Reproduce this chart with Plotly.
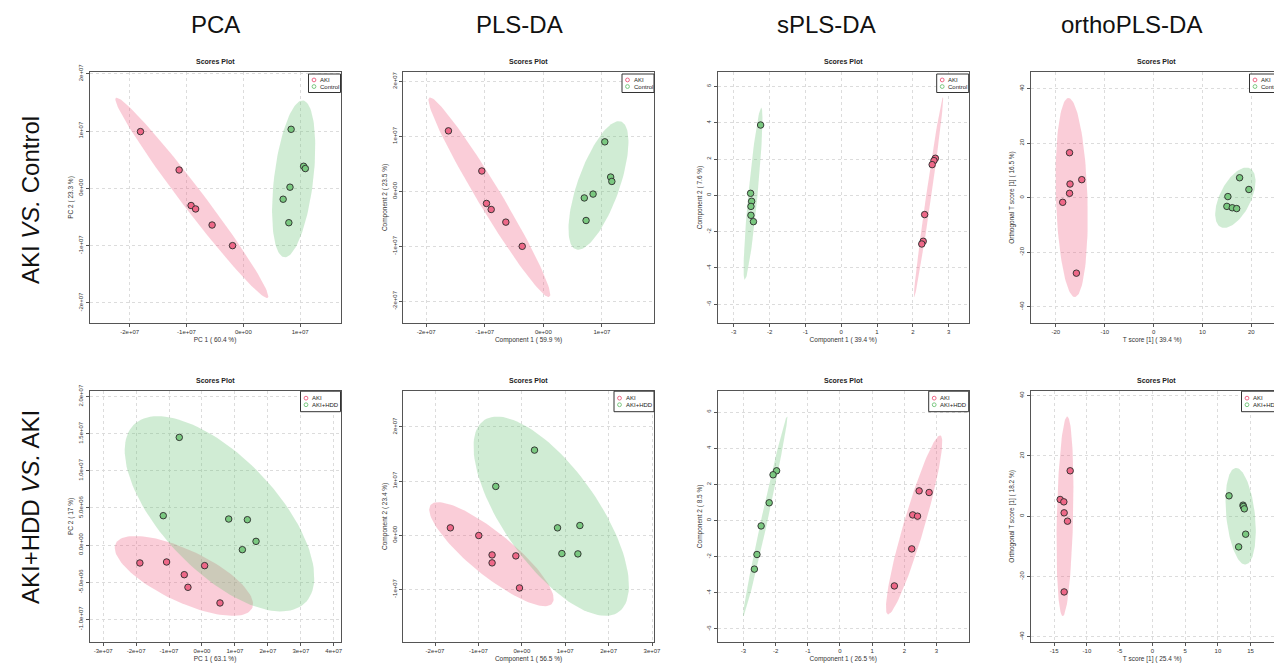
import numpy as np
import plotly.graph_objects as go

W, H = 1274, 671
FONT = "Liberation Sans"

# ---------------- labels ----------------
col_titles = ["PCA", "PLS-DA", "sPLS-DA", "orthoPLS-DA"]
row_titles = ["AKI <i>VS.</i> Control", "AKI+HDD <i>VS.</i> AKI"]
row_groups = [["AKI", "Control"], ["AKI", "AKI+HDD"]]

x_titles = ["PC 1 ( 60.4 %)", "Component 1 ( 59.9 %)", "Component 1 ( 39.4 %)", "T score [1] ( 39.4 %)",
            "PC 1 ( 63.1 %)", "Component 1 ( 56.5 %)", "Component 1 ( 26.5 %)", "T score [1] ( 25.4 %)"]
y_titles = ["PC 2 ( 23.3 %)", "Component 2 ( 23.5 %)", "Component 2 ( 7.6 %)", "Orthogonal T score [1] ( 16.5 %)",
            "PC 2 ( 17 %)", "Component 2 ( 23.4 %)", "Component 2 ( 8.5 %)", "Orthogonal T score [1] ( 18.2 %)"]

# ---------------- data: row 1 (AKI vs Control) ----------------
pca_r1_aki_x = [-1.81e7, -1.13e7, -0.92e7, -0.84e7, -0.55e7, -0.19e7]
pca_r1_aki_y = [0.99e7, 0.32e7, -0.30e7, -0.36e7, -0.64e7, -1.00e7]
pca_r1_ctl_x = [0.84e7, 1.06e7, 1.09e7, 0.82e7, 0.70e7, 0.80e7]
pca_r1_ctl_y = [1.03e7, 0.385e7, 0.345e7, 0.02e7, -0.19e7, -0.60e7]

plsda_r1_aki_x = [-1.62e7, -1.05e7, -0.97e7, -0.89e7, -0.64e7, -0.36e7]
plsda_r1_aki_y = [1.10e7, 0.37e7, -0.22e7, -0.33e7, -0.56e7, -1.00e7]
plsda_r1_ctl_x = [1.05e7, 1.15e7, 1.17e7, 0.85e7, 0.70e7, 0.73e7]
plsda_r1_ctl_y = [0.90e7, 0.26e7, 0.18e7, -0.05e7, -0.12e7, -0.53e7]

splsda_r1_aki_x = [2.63, 2.59, 2.54, 2.33, 2.29, 2.25]
splsda_r1_aki_y = [2.04, 1.91, 1.69, -1.06, -2.53, -2.68]
splsda_r1_ctl_x = [-2.25, -2.53, -2.50, -2.52, -2.52, -2.45]
splsda_r1_ctl_y = [3.87, 0.11, -0.33, -0.61, -1.10, -1.45]

opls_r1_aki_x = [-17.2, -17.1, -17.2, -18.6, -14.7, -15.8]
opls_r1_aki_y = [16.5, 5.0, 1.6, -1.7, 6.6, -27.7]
opls_r1_ctl_x = [17.6, 19.5, 15.2, 15.0, 16.1, 17.0]
opls_r1_ctl_y = [7.3, 3.0, 0.4, -3.2, -3.7, -4.0]

# ---------------- data: row 2 (AKI+HDD vs AKI) ----------------
pca_r2_aki_x = [-1.885e7, -1.074e7, -0.537e7, -0.426e7, 0.081e7, 0.547e7]
pca_r2_aki_y = [-2.42e6, -2.29e6, -4.00e6, -5.70e6, -2.78e6, -7.81e6]
pca_r2_hdd_x = [-0.689e7, -1.175e7, 0.811e7, 1.378e7, 1.641e7, 1.226e7]
pca_r2_hdd_y = [14.5e6, 3.95e6, 3.50e6, 3.41e6, 0.49e6, -0.63e6]

plsda_r2_aki_x = [-1.646e7, -0.992e7, -0.685e7, -0.685e7, -0.138e7, -0.054e7]
plsda_r2_aki_y = [0.136e7, -0.006e7, -0.364e7, -0.511e7, -0.382e7, -0.974e7]
plsda_r2_hdd_x = [0.292e7, -0.600e7, 0.823e7, 1.338e7, 0.923e7, 1.292e7]
plsda_r2_hdd_y = [1.571e7, 0.900e7, 0.136e7, 0.179e7, -0.339e7, -0.345e7]

splsda_r2_aki_x = [2.46, 2.77, 2.26, 2.41, 2.23, 1.69]
splsda_r2_aki_y = [1.64, 1.55, 0.31, 0.24, -1.57, -3.62]
splsda_r2_hdd_x = [-1.97, -2.08, -2.20, -2.45, -2.58, -2.66]
splsda_r2_hdd_y = [2.75, 2.53, 0.98, -0.30, -1.88, -2.69]

opls_r2_aki_x = [-12.56, -14.09, -13.53, -13.48, -12.97, -13.48]
opls_r2_aki_y = [15.07, 5.54, 4.76, 1.11, -1.66, -25.15]
opls_r2_hdd_x = [11.70, 13.84, 13.89, 14.04, 14.24, 13.17]
opls_r2_hdd_y = [6.76, 3.66, 3.21, 2.44, -5.98, -10.19]

# ---------------- ticks ----------------
e7_ticks_2 = [-2e7, -1e7, 0, 1e7, 2e7]
e7_labels_2 = ["-2e+07", "-1e+07", "0e+00", "1e+07", "2e+07"]
pca_r2_xticks = [-3e7, -2e7, -1e7, 0, 1e7, 2e7, 3e7, 4e7]
pca_r2_xlabels = ["-3e+07", "-2e+07", "-1e+07", "0e+00", "1e+07", "2e+07", "3e+07", "4e+07"]
pca_r2_yticks = [-1e7, -5e6, 0, 5e6, 1e7, 1.5e7, 2e7]
pca_r2_ylabels = ["-1.0e+07", "-5.0e+06", "0.0e+00", "5.0e+06", "1.0e+07", "1.5e+07", "2.0e+07"]
plsda_r2_xticks = [-2e7, -1e7, 0, 1e7, 2e7, 3e7]
plsda_r2_xlabels = ["-2e+07", "-1e+07", "0e+00", "1e+07", "2e+07", "3e+07"]
plsda_r2_yticks = [-1e7, 0, 1e7, 2e7]
plsda_r2_ylabels = ["-1e+07", "0e+00", "1e+07", "2e+07"]
spls_xticks = [-3, -2, -1, 0, 1, 2, 3]
spls_yticks = [-6, -4, -2, 0, 2, 4, 6]
opls_r1_xticks = [-20, -10, 0, 10, 20]
opls_r2_xticks = [-15, -10, -5, 0, 5, 10, 15]
opls_yticks = [-40, -20, 0, 20, 40]

panels = [
    dict(g1=(pca_r1_aki_x, pca_r1_aki_y), g2=(pca_r1_ctl_x, pca_r1_ctl_y),
         xr=[-2.707e7, 1.709e7], yr=[-2.35e7, 2.03e7],
         xt=(e7_ticks_2[:4], e7_labels_2[:4]), yt=(e7_ticks_2, e7_labels_2)),
    dict(g1=(plsda_r1_aki_x, plsda_r1_aki_y), g2=(plsda_r1_ctl_x, plsda_r1_ctl_y),
         xr=[-2.396e7, 1.89e7], yr=[-2.394e7, 2.17e7],
         xt=(e7_ticks_2[:4], e7_labels_2[:4]), yt=(e7_ticks_2, e7_labels_2)),
    dict(g1=(splsda_r1_aki_x, splsda_r1_aki_y), g2=(splsda_r1_ctl_x, splsda_r1_ctl_y),
         xr=[-3.448, 3.56], yr=[-7.03, 6.79],
         xt=(spls_xticks, None), yt=(spls_yticks, None)),
    dict(g1=(opls_r1_aki_x, opls_r1_aki_y), g2=(opls_r1_ctl_x, opls_r1_ctl_y),
         xr=[-25.19, 24.64], yr=[-45.98, 46.1],
         xt=(opls_r1_xticks, None), yt=(opls_yticks, None)),
    dict(g1=(pca_r2_aki_x, pca_r2_aki_y), g2=(pca_r2_hdd_x, pca_r2_hdd_y),
         xr=[-3.414e7, 4.205e7], yr=[-13.07e6, 20.79e6],
         xt=(pca_r2_xticks, pca_r2_xlabels), yt=(pca_r2_yticks, pca_r2_ylabels)),
    dict(g1=(plsda_r2_aki_x, plsda_r2_aki_y), g2=(plsda_r2_hdd_x, plsda_r2_hdd_y),
         xr=[-2.738e7, 3.046e7], yr=[-1.972e7, 2.668e7],
         xt=(plsda_r2_xticks, plsda_r2_xlabels), yt=(plsda_r2_yticks, plsda_r2_ylabels)),
    dict(g1=(splsda_r2_aki_x, splsda_r2_aki_y), g2=(splsda_r2_hdd_x, splsda_r2_hdd_y),
         xr=[-3.80, 4.0], yr=[-6.72, 7.18],
         xt=(spls_xticks, None), yt=(spls_yticks, None)),
    dict(g1=(opls_r2_aki_x, opls_r2_aki_y), g2=(opls_r2_hdd_x, opls_r2_hdd_y),
         xr=[-18.62, 18.57], yr=[-41.77, 41.66],
         xt=(opls_r2_xticks, None), yt=(opls_yticks, None)),
]

# ---------------- styling / layout geometry (pixels) ----------------
col_px = [(89.5, 340.5), (403.0, 654.0), (717.7, 968.7), (1030.5, 1281.5)]
row_px = [(72.0, 323.0), (390.7, 642.0)]
col_title_x = [215, 519, 826, 1131]
col_title_y = 25
row_title_y = [200, 507]

C_AKI = "rgb(238,104,136)"
C_OTH = "rgb(122,200,128)"
F_AKI = "rgba(240,100,135,0.32)"
F_OTH = "rgba(110,195,120,0.32)"
AX = "#555555"


def conf_ellipse(x, y, level=0.95, n=120):
    pts = np.column_stack([x, y])
    c = pts.mean(axis=0)
    cov = np.cov(pts.T)
    vals, vecs = np.linalg.eigh(cov)
    t = np.sqrt(-2.0 * np.log(1.0 - level))  # sqrt(chi2_2(level))
    th = np.linspace(0, 2 * np.pi, n)
    circ = np.vstack([np.cos(th), np.sin(th)])
    e = vecs @ (np.sqrt(np.maximum(vals, 0))[:, None] * circ) * t + c[:, None]
    return e[0], e[1]


fig = go.Figure()
layout = dict(width=W, height=H, margin=dict(l=0, r=0, t=0, b=0, autoexpand=False),
              paper_bgcolor="white", plot_bgcolor="white", showlegend=False,
              font=dict(family=FONT, color="#222222"), hovermode=False)
annotations = []
shapes = []

for i, p in enumerate(panels):
    r, c = divmod(i, 4)
    n = i + 1
    xa = "x" if n == 1 else f"x{n}"
    ya = "y" if n == 1 else f"y{n}"
    xk = "xaxis" if n == 1 else f"xaxis{n}"
    yk = "yaxis" if n == 1 else f"yaxis{n}"
    x0, x1 = col_px[c]
    y0, y1 = row_px[r]
    dx = [x0 / W, min(x1, W) / W]
    dy = [1 - y1 / H, 1 - y0 / H]

    # ellipses
    for (gx, gy), fc in ((p["g1"], F_AKI), (p["g2"], F_OTH)):
        ex, ey = conf_ellipse(gx, gy)
        fig.add_trace(go.Scatter(x=ex, y=ey, mode="lines", fill="toself", fillcolor=fc,
                                 line=dict(width=0), xaxis=xa, yaxis=ya, hoverinfo="skip"))
    # points
    for (gx, gy), mc, name in ((p["g1"], C_AKI, row_groups[r][0]), (p["g2"], C_OTH, row_groups[r][1])):
        fig.add_trace(go.Scatter(x=gx, y=gy, mode="markers", name=name,
                                 marker=dict(size=6.5, color=mc, line=dict(color="#2a2a2a", width=0.9)),
                                 xaxis=xa, yaxis=ya))

    xtv, xtt = p["xt"]
    ytv, ytt = p["yt"]
    common = dict(showline=True, linecolor=AX, linewidth=1, ticks="outside", ticklen=3,
                  tickcolor=AX, tickwidth=1, showgrid=True, gridcolor="#dcdcdc", griddash="dot",
                  gridwidth=1, zeroline=False, tickfont=dict(size=6, color="#333333", family=FONT),
                  fixedrange=True)
    layout[xk] = dict(common, domain=dx, range=p["xr"], anchor=ya, mirror=True,
                      tickmode="array", tickvals=xtv, ticktext=xtt if xtt else [str(v) for v in xtv],
                      title=dict(text=x_titles[i], font=dict(size=6.5, color="#333333"), standoff=3))
    layout[yk] = dict(common, domain=dy, range=p["yr"], anchor=xa, mirror=(c != 3),
                      tickmode="array", tickvals=ytv, ticktext=ytt if ytt else [str(v) for v in ytv],
                      tickangle=-90,
                      title=dict(text=y_titles[i], font=dict(size=6.5, color="#333333"), standoff=3))

    # panel title
    annotations.append(dict(text="<b>Scores Plot</b>", x=(x0 + x1) / 2 / W, y=1 - (y0 - 10.5) / H,
                            xref="paper", yref="paper", showarrow=False, xanchor="center",
                            yanchor="middle", font=dict(size=7, color="#222222")))

    # legend box (manual, R-style)
    lw = 32 if r == 0 else 40
    lh = 18.5 if r == 0 else 20.5
    ltop = y0 + (2 if r == 0 else 0.5)
    lx0 = x1 - lw
    shapes.append(dict(type="rect", xref="paper", yref="paper",
                       x0=lx0 / W, x1=x1 / W, y0=1 - (ltop + lh) / H, y1=1 - ltop / H,
                       line=dict(color="#333333", width=1), fillcolor="white", layer="above"))
    mid = ltop + lh / 2
    for k, (name, col) in enumerate(zip(row_groups[r], (C_AKI, C_OTH))):
        cy = mid + (-3.3 if k == 0 else 3.3)
        shapes.append(dict(type="circle", xref="paper", yref="paper",
                           xsizemode="pixel", ysizemode="pixel",
                           xanchor=(lx0 + 5.5) / W, yanchor=1 - cy / H,
                           x0=-1.9, x1=1.9, y0=-1.9, y1=1.9,
                           line=dict(color=col, width=1), fillcolor="rgba(0,0,0,0)", layer="above"))
        annotations.append(dict(text=name, x=(lx0 + 9.5) / W, y=1 - cy / H, xref="paper", yref="paper",
                                showarrow=False, xanchor="left", yanchor="middle",
                                font=dict(size=6, color="#222222")))

for k, t in enumerate(col_titles):
    annotations.append(dict(text=t, x=col_title_x[k] / W, y=1 - col_title_y / H, xref="paper", yref="paper",
                            showarrow=False, xanchor="center", yanchor="middle",
                            font=dict(size=24, color="#111111", family=FONT)))
for k, t in enumerate(row_titles):
    annotations.append(dict(text=t, x=30 / W, y=1 - row_title_y[k] / H, xref="paper", yref="paper",
                            showarrow=False, xanchor="center", yanchor="middle", textangle=-90,
                            font=dict(size=24, color="#111111", family=FONT)))

layout["annotations"] = annotations
layout["shapes"] = shapes
fig.update_layout(**layout)
fig.write_html("out.html", config={"displayModeBar": False, "staticPlot": True},
               post_script="document.body.style.margin='0';document.body.style.overflow='hidden';")
